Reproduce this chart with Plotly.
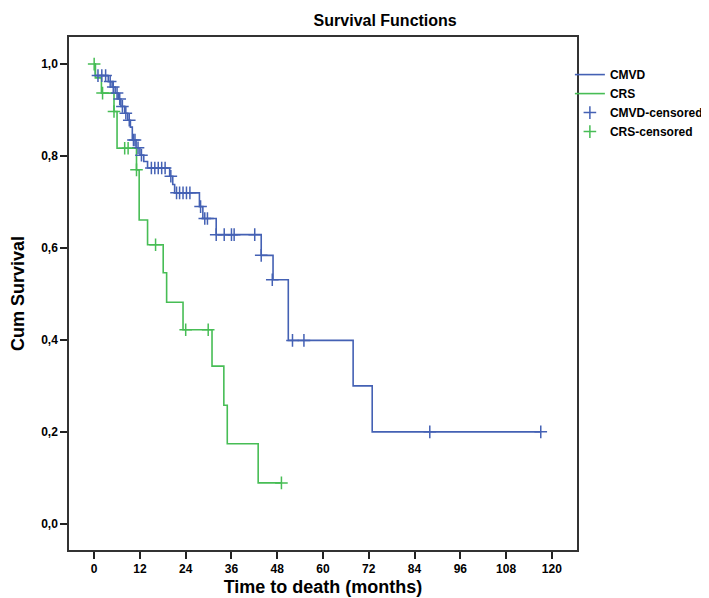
import plotly.graph_objects as go

# ---- data ----
cmvd_t = [0, 0.3, 3.7, 4.7, 5.5, 6.3, 7.0, 8.0, 8.8, 9.5, 10.0, 11.0, 12.0, 13.0, 14.0,
          19.8, 20.6, 21.1, 27.6, 28.5, 32.0, 43.8, 46.9, 50.9, 67.9, 72.9, 117.1]
cmvd_s = [1.0, 0.975, 0.962, 0.950, 0.937, 0.924, 0.908, 0.893, 0.878, 0.863, 0.835, 0.818,
          0.802, 0.788, 0.774, 0.756, 0.738, 0.720, 0.690, 0.664, 0.629, 0.584, 0.531, 0.399,
          0.300, 0.200, 0.200]

cmvd_cens_t = [1.0, 2.0, 3.0, 4.2, 5.0, 6.0, 6.7, 7.4, 8.3, 9.2, 10.3, 10.7, 11.5, 12.4,
               15.0, 15.9, 16.8, 17.7, 18.6, 20.1, 21.6, 22.4, 23.3, 24.2, 25.1, 27.9,
               29.0, 29.7, 32.0, 34.1, 36.0, 36.7, 42.1, 43.8, 46.7, 52.0, 55.0, 88.0, 117.1]
cmvd_cens_s = [0.975, 0.975, 0.975, 0.962, 0.950, 0.937, 0.924, 0.908, 0.893, 0.878, 0.835,
               0.835, 0.818, 0.802, 0.774, 0.774, 0.774, 0.774, 0.774, 0.756, 0.720, 0.720,
               0.720, 0.720, 0.720, 0.690, 0.664, 0.664, 0.629, 0.629, 0.629, 0.629, 0.629,
               0.584, 0.531, 0.399, 0.399, 0.200, 0.200]

crs_t = [0, 0.3, 1.9, 5.2, 6.0, 11.1, 11.8, 14.0, 18.1, 19.0, 23.3, 30.9, 34.0, 34.9, 43.0, 49.1]
crs_s = [1.0, 0.970, 0.937, 0.897, 0.817, 0.770, 0.661, 0.607, 0.546, 0.482, 0.422, 0.343,
         0.258, 0.174, 0.089, 0.089]

crs_cens_t = [0, 2.2, 5.2, 8.0, 8.9, 11.1, 16.1, 24.0, 29.9, 49.1]
crs_cens_s = [1.0, 0.937, 0.897, 0.817, 0.817, 0.770, 0.607, 0.422, 0.422, 0.089]

x_ticks = [0, 12, 24, 36, 48, 60, 72, 84, 96, 108, 120]
y_ticks = [0.0, 0.2, 0.4, 0.6, 0.8, 1.0]
y_tick_labels = ["0,0", "0,2", "0,4", "0,6", "0,8", "1,0"]

BLUE = "#4461b4"
GREEN = "#47bd55"
FONT = "Liberation Sans, Arial, sans-serif"

fig = go.Figure()
fig.add_trace(go.Scatter(x=cmvd_t, y=cmvd_s, mode="lines", name="CMVD",
                         line=dict(color=BLUE, width=1.6, shape="hv")))
fig.add_trace(go.Scatter(x=crs_t, y=crs_s, mode="lines", name="CRS",
                         line=dict(color=GREEN, width=1.6, shape="hv")))
fig.add_trace(go.Scatter(x=cmvd_cens_t, y=cmvd_cens_s, mode="markers", name="CMVD-censored",
                         marker=dict(symbol="cross-thin", size=9,
                                     line=dict(color=BLUE, width=1.5))))
fig.add_trace(go.Scatter(x=crs_cens_t, y=crs_cens_s, mode="markers", name="CRS-censored",
                         marker=dict(symbol="cross-thin", size=9,
                                     line=dict(color=GREEN, width=1.5))))

fig.update_layout(
    width=709, height=598,
    margin=dict(l=61, r=140, t=29, b=56, autoexpand=False),
    paper_bgcolor="white", plot_bgcolor="white",
    font=dict(family=FONT, size=12, color="black", weight="bold"),
    title=dict(text="Survival Functions", x=0.532, xref="container", xanchor="center",
               y=0.979, yref="container", yanchor="middle",
               font=dict(family=FONT, size=16, color="black", weight="bold")),
    showlegend=True,
    legend=dict(x=0.986, xanchor="left", y=0.955, yanchor="top",
                font=dict(family=FONT, size=12, color="black", weight="bold"),
                bgcolor="rgba(0,0,0,0)", tracegroupgap=0, itemwidth=30),
    xaxis=dict(range=[-6.6, 126.6], tickvals=x_ticks, ticks="outside", ticklen=7,
               tickwidth=1.5, tickcolor="#222", showgrid=False, zeroline=False,
               showline=True, linecolor="#333", linewidth=1.5, mirror=True,
               automargin=False,
               tickfont=dict(family=FONT, size=12, color="black", weight="bold"),
               title=dict(text="Time to death (months)", standoff=5,
                          font=dict(family=FONT, size=18, color="black", weight="bold"))),
    yaxis=dict(range=[-0.057, 1.059], tickvals=y_ticks, ticktext=y_tick_labels,
               ticks="outside", ticklen=7, tickwidth=1.5, tickcolor="#222",
               showgrid=False, zeroline=False, showline=True, linecolor="#333",
               linewidth=1.5, mirror=True, automargin=False,
               tickfont=dict(family=FONT, size=12, color="black", weight="bold"),
               title=dict(text="Cum Survival", standoff=12,
                          font=dict(family=FONT, size=18, color="black", weight="bold"))),
)

fig.write_html("out.html")
